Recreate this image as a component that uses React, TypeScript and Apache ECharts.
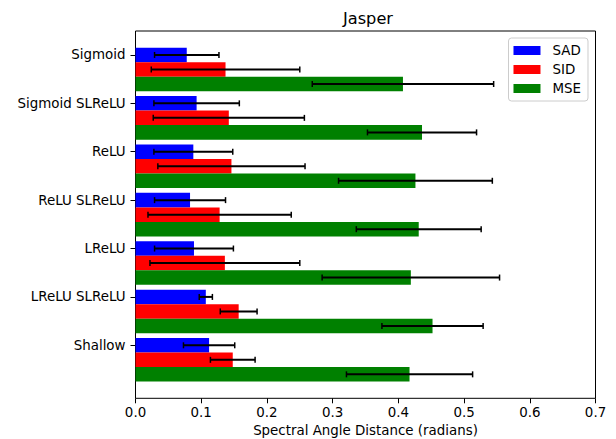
import React, { useEffect, useRef } from "react";
import * as echarts from "echarts";

// Activation variants, listed top to bottom
const categories = [
  "Sigmoid",
  "Sigmoid SLReLU",
  "ReLU",
  "ReLU SLReLU",
  "LReLU",
  "LReLU SLReLU",
  "Shallow",
];

// Mean spectral angle distance per metric and variant
const sadMean = [0.078, 0.093, 0.088, 0.083, 0.089, 0.107, 0.112];
const sidMean = [0.137, 0.142, 0.146, 0.128, 0.136, 0.157, 0.148];
const mseMean = [0.407, 0.436, 0.426, 0.431, 0.419, 0.452, 0.417];

// Standard deviations (error bar half-widths)
const sadStd = [0.049, 0.065, 0.06, 0.054, 0.06, 0.01, 0.039];
const sidStd = [0.113, 0.115, 0.112, 0.109, 0.114, 0.028, 0.034];
const mseStd = [0.138, 0.083, 0.117, 0.095, 0.135, 0.077, 0.096];

const FONT = "DejaVu Sans";
const FS = 13.4;
const BAR_H = 0.3;
const CAP = 3;

function barSeries(
  name: string,
  color: string,
  means: number[],
  stds: number[],
  offset: number
) {
  return {
    name,
    type: "custom",
    itemStyle: { color },
    data: means.map((m, i) => [m, i, stds[i]]),
    encode: { x: 0, y: 1 },
    renderItem: (_params: any, api: any) => {
      const v = api.value(0);
      const c = api.value(1) + offset;
      const s = api.value(2);
      const a = api.coord([0, c - BAR_H / 2]);
      const b = api.coord([v, c + BAR_H / 2]);
      const lo = api.coord([v - s, c]);
      const hi = api.coord([v + s, c]);
      const y = Math.min(a[1], b[1]);
      const h = Math.abs(b[1] - a[1]);
      return {
        type: "group",
        children: [
          {
            type: "rect",
            shape: { x: a[0], y, width: b[0] - a[0], height: h },
            style: { fill: color },
            z2: 1,
          },
          {
            type: "line",
            shape: { x1: lo[0], y1: lo[1], x2: hi[0], y2: hi[1] },
            style: { stroke: "#000", lineWidth: 2 },
            z2: 10,
          },
          {
            type: "line",
            shape: { x1: lo[0], y1: lo[1] - CAP, x2: lo[0], y2: lo[1] + CAP },
            style: { stroke: "#000", lineWidth: 1.5 },
            z2: 10,
          },
          {
            type: "line",
            shape: { x1: hi[0], y1: hi[1] - CAP, x2: hi[0], y2: hi[1] + CAP },
            style: { stroke: "#000", lineWidth: 1.5 },
            z2: 10,
          },
        ],
      };
    },
  };
}

export default function App() {
  const ref = useRef<HTMLDivElement>(null);

  useEffect(() => {
    if (!ref.current) return;
    const chart = echarts.init(ref.current, null, { renderer: "svg" });
    const catIdx = categories.map((_, i) => i);

    chart.setOption({
      animation: false,
      backgroundColor: "#fff",
      textStyle: { fontFamily: FONT, color: "#000" },
      title: {
        text: "Jasper",
        left: 363,
        top: 5,
        textAlign: "center",
        textStyle: {
          fontFamily: FONT,
          fontSize: 16.2,
          fontWeight: "normal",
          color: "#000",
        },
      },
      legend: {
        data: ["SAD", "SID", "MSE"],
        orient: "vertical",
        right: 28,
        top: 38,
        icon: "rect",
        itemWidth: 27,
        itemHeight: 9,
        itemGap: 6,
        padding: [6, 7, 6, 5],
        backgroundColor: "rgba(255,255,255,0.8)",
        borderColor: "#cccccc",
        borderWidth: 1,
        borderRadius: 3,
        formatter: "{n|{name}}",
        textStyle: {
          fontFamily: FONT,
          fontSize: FS,
          color: "#000",
          rich: {
            n: {
              fontFamily: FONT,
              fontSize: FS,
              color: "#000",
              padding: [0, 0, 0, 7],
            },
          },
        },
      },
      grid: {
        left: 135.5,
        right: 20.5,
        top: 31,
        bottom: 40.7,
        containLabel: false,
        outerBoundsMode: "none",
        show: true,
        borderColor: "#000",
        borderWidth: 1,
        backgroundColor: "transparent",
      },
      xAxis: {
        type: "value",
        min: 0,
        max: 0.7,
        interval: 0.1,
        name: "Spectral Angle Distance (radians)",
        nameLocation: "middle",
        nameGap: 26,
        nameTextStyle: { fontFamily: FONT, fontSize: FS, color: "#000" },
        axisLine: { show: false, onZero: false },
        axisTick: {
          show: true,
          length: 5,
          lineStyle: { color: "#000", width: 1 },
        },
        axisLabel: {
          fontFamily: FONT,
          fontSize: FS,
          color: "#000",
          margin: 8,
          formatter: (v: number) => v.toFixed(1),
        },
        splitLine: { show: false },
      },
      yAxis: {
        type: "value",
        inverse: true,
        min: -0.495,
        max: 7.095,
        axisLine: { show: false, onZero: false },
        axisTick: {
          show: true,
          length: 5,
          lineStyle: { color: "#000", width: 1 },
          customValues: catIdx,
        },
        axisLabel: {
          fontFamily: FONT,
          fontSize: FS,
          color: "#000",
          margin: 10,
          customValues: catIdx,
          formatter: (v: number) => categories[Math.round(v)] ?? "",
        },
        splitLine: { show: false },
      },
      series: [
        barSeries("SAD", "#0000ff", sadMean, sadStd, 0),
        barSeries("SID", "#ff0000", sidMean, sidStd, 0.3),
        barSeries("MSE", "#008000", mseMean, mseStd, 0.6),
      ],
    });

    return () => chart.dispose();
  }, []);

  return (
    <div
      ref={ref}
      style={{ position: "fixed", left: 0, top: 0, width: 616, height: 439 }}
    />
  );
}
